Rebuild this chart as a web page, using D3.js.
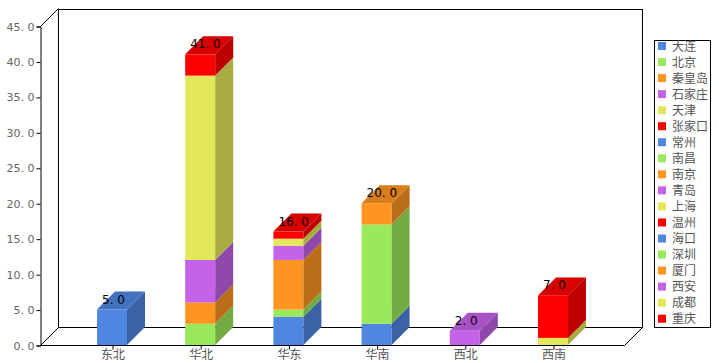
<!DOCTYPE html>
<html>
<head>
<meta charset="utf-8">
<script src="https://cdn.jsdelivr.net/npm/d3@7"></script>
<style>
  body { margin: 0; background: #fff; }
  text { font-family: "Noto Sans CJK SC", "DejaVu Sans", sans-serif; }
</style>
</head>
<body>
<div id="chart"></div>
<script>
var categories = ["东北", "华北", "华东", "华南", "西北", "西南"];
var cities = ["大连", "北京", "秦皇岛", "石家庄", "天津", "张家口", "常州", "南昌", "南京",
              "青岛", "上海", "温州", "海口", "深圳", "厦门", "西安", "成都", "重庆"];
var cityRegion = ["东北", "华北", "华北", "华北", "华北", "华北", "华东", "华东", "华东",
                  "华东", "华东", "华东", "华南", "华南", "华南", "西北", "西南", "西南"];
var cityValue = [5, 3, 3, 6, 26, 3, 4, 1, 7, 2, 1, 1, 3, 14, 3, 2, 1, 6];
var yTicks = [0, 5, 10, 15, 20, 25, 30, 35, 40, 45];
var palette = ["#4f86e0", "#9ae95a", "#ff9421", "#c462e8", "#e3e85a", "#ff0000"];

var W = 721, H = 363;
var depth = 18;
var barW = 30;

var svg = d3.select("#chart").append("svg")
    .attr("width", W)
    .attr("height", H);

var y = d3.scaleLinear().domain([0, 45]).range([345, 26]);
var x = d3.scalePoint().domain(categories).range([112, 553]);

var fmt = d3.format(".1f");

// walls
var wall = svg.append("g").attr("fill", "none").attr("stroke", "#000").attr("stroke-width", 1);
wall.append("rect").attr("x", 58.5).attr("y", 9.5).attr("width", 584).attr("height", 318);
wall.append("line").attr("x1", 40.5).attr("y1", y(45) + 0.5).attr("x2", 58.5).attr("y2", y(45) - depth + 0.5);
wall.append("line").attr("x1", 40.5).attr("y1", 345.5).attr("x2", 58.5).attr("y2", 327.5);
wall.append("line").attr("x1", 624.5).attr("y1", 345.5).attr("x2", 642.5).attr("y2", 327.5);
wall.append("line").attr("x1", 40.5).attr("y1", 345.5).attr("x2", 624.5).attr("y2", 345.5);

// y axis
var yAxis = svg.append("g").attr("transform", "translate(40.5,0.5)")
    .call(d3.axisLeft(y).tickValues(yTicks).tickSize(4).tickPadding(2)
        .tickFormat(function(d) { return d3.format(".1f")(d).replace(".", ". "); }));
yAxis.select(".domain").attr("stroke", "#000");
yAxis.selectAll(".tick line").attr("stroke", "#000");
yAxis.selectAll("text").attr("fill", "#666").style("font-size", "11px")
    .style("font-family", "'DejaVu Sans', sans-serif");

// x axis
var xAxis = svg.append("g").attr("transform", "translate(0.5,345.5)")
    .call(d3.axisBottom(x).tickSize(4).tickPadding(1));
xAxis.select(".domain").remove();
xAxis.selectAll(".tick line").attr("stroke", "#000");
xAxis.selectAll("text").attr("fill", "#555").style("font-size", "12px");

// stacks
var stacks = {};
categories.forEach(function(c) { stacks[c] = []; });
var base = {};
cities.forEach(function(city, i) {
    var c = cityRegion[i];
    var b = base[c] || 0;
    stacks[c].push({ city: city, y0: b, y1: b + cityValue[i], color: palette[i % palette.length] });
    base[c] = b + cityValue[i];
});

var bars = svg.append("g");
categories.forEach(function(c) {
    var segs = stacks[c];
    var x0 = x(c) - barW / 2, x1 = x(c) + barW / 2;
    segs.forEach(function(s, j) {
        var yb = y(s.y0), yt = y(s.y1);
        var col = d3.color(s.color);
        bars.append("rect")
            .attr("x", x0).attr("y", yt)
            .attr("width", barW).attr("height", yb - yt)
            .attr("fill", s.color);
        bars.append("path")
            .attr("d", "M" + x1 + "," + yb + "L" + x1 + "," + yt + "L" + (x1 + depth) + "," + (yt - depth) +
                "L" + (x1 + depth) + "," + (yb - depth) + "Z")
            .attr("fill", col.darker(0.85));
        if (j === segs.length - 1) {
            bars.append("path")
                .attr("d", "M" + x0 + "," + yt + "L" + (x0 + depth) + "," + (yt - depth) + "L" + (x1 + depth) + "," +
                    (yt - depth) + "L" + x1 + "," + yt + "Z")
                .attr("fill", col.darker(0.45));
        }
    });
    var total = segs[segs.length - 1].y1;
    bars.append("text")
        .attr("x", x0 + 5)
        .attr("y", y(total) - 6)
        .attr("fill", "#000")
        .style("font-size", "12px")
        .style("font-family", "'DejaVu Sans', sans-serif")
        .text(fmt(total).replace(".", ". "));
});

// legend
var legend = svg.append("g");
legend.append("rect").attr("x", 654.5).attr("y", 40.5).attr("width", 56).attr("height", 287)
    .attr("fill", "#fff").attr("stroke", "#000");
cities.forEach(function(city, i) {
    var ly = 46 + i * 16.04;
    legend.append("rect").attr("x", 658).attr("y", ly - 4).attr("width", 8).attr("height", 8)
        .attr("fill", palette[i % palette.length]);
    legend.append("text").attr("x", 672).attr("y", ly + 4.5)
        .attr("fill", "#555").style("font-size", "12px").text(city);
});
</script>
</body>
</html>
